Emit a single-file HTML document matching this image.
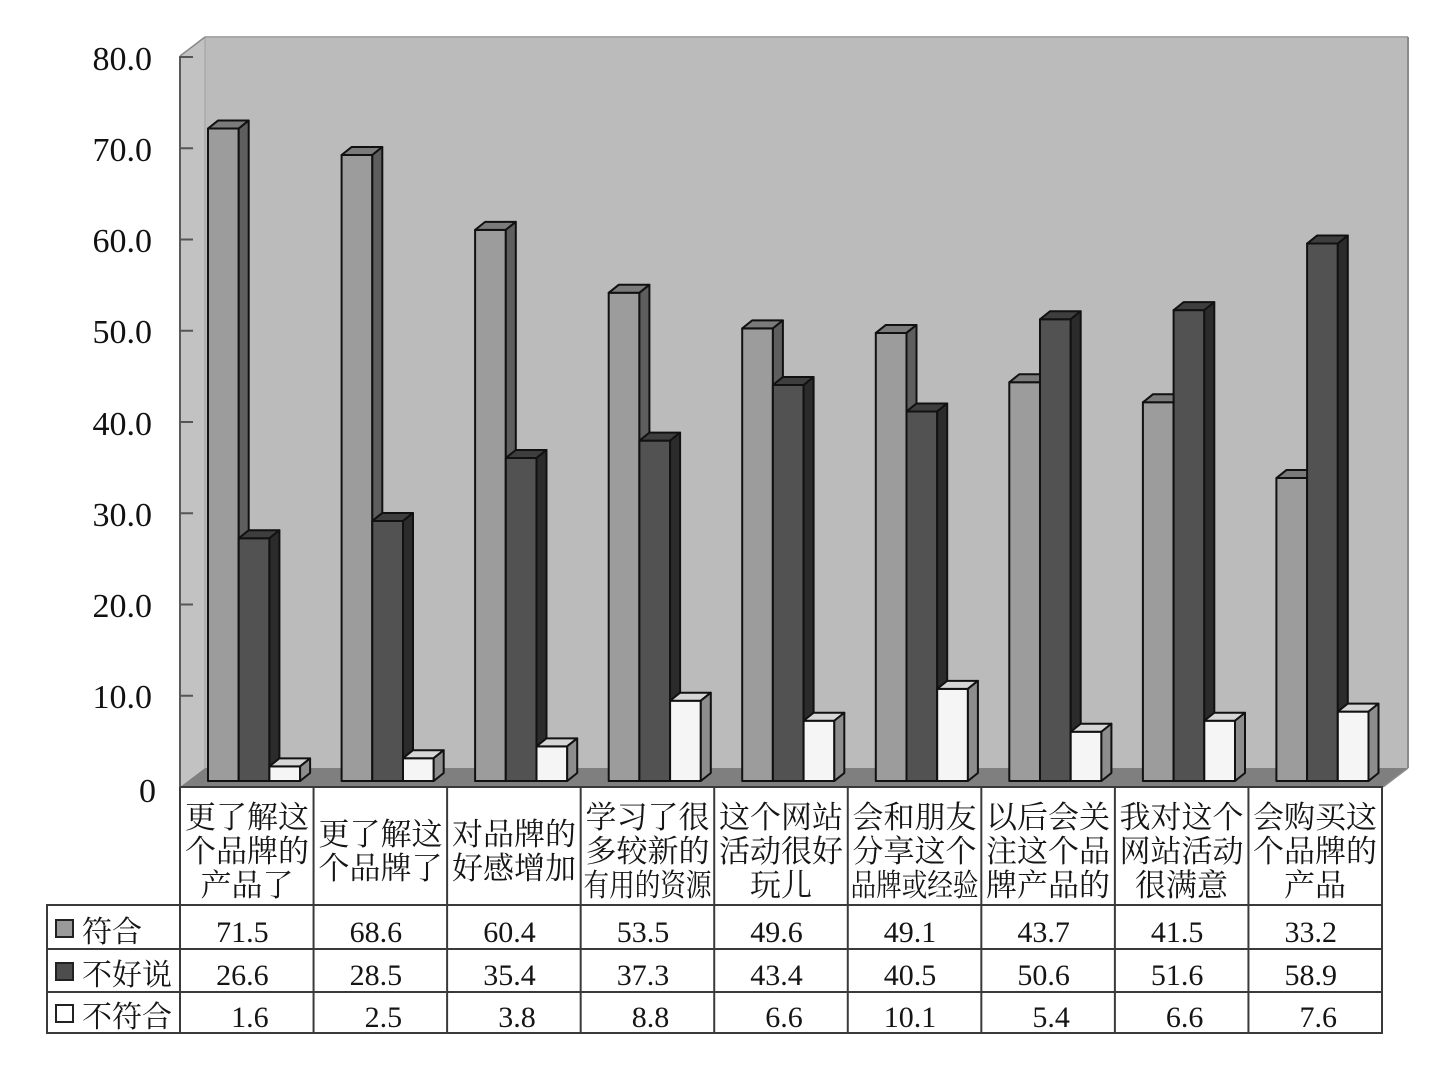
<!DOCTYPE html>
<html>
<head>
<meta charset="utf-8">
<style>
  html, body { margin:0; padding:0; background:#ffffff; }
  svg { display:block; }
  .ax { font-family:"Liberation Serif","Noto Serif CJK SC",serif; font-size:34px; fill:#111; }
  .cat { font-family:"Liberation Serif","Noto Serif CJK SC",serif; font-size:31px; fill:#151515; text-anchor:middle; }
  .num { font-family:"Liberation Serif","Noto Serif CJK SC",serif; font-size:30px; fill:#151515; text-anchor:end; }
  .lab { font-family:"Liberation Serif","Noto Serif CJK SC",serif; font-size:30px; fill:#151515; }
  .b rect, .b polygon { stroke:#111; stroke-width:2; stroke-linejoin:round; }
  .m .f { fill:#9c9c9c; } .m .t { fill:#7b7b7b; } .m .s { fill:#5e5e5e; }
  .d .f { fill:#525252; } .d .t { fill:#3e3e3e; } .d .s { fill:#2b2b2b; }
  .w .f { fill:#f5f5f5; } .w .t { fill:#d6d6d6; } .w .s { fill:#8d8d8d; }
  .grid line { stroke:#3a3a3a; stroke-width:2; }
</style>
</head>
<body>
<svg width="1454" height="1068" viewBox="0 0 1454 1068" xmlns="http://www.w3.org/2000/svg">
  <!-- back wall -->
  <rect x="205" y="37" width="1203" height="731" fill="#bbbbbb"/>
  <line x1="205" y1="37" x2="1408" y2="37" stroke="#a8a8a8" stroke-width="2"/>
  <line x1="1408" y1="37" x2="1408" y2="768" stroke="#8a8a8a" stroke-width="2"/>
  <!-- left wall -->
  <polygon points="180,56 205,37 205,768 180,787" fill="#c2c2c2"/>
  <line x1="205" y1="37" x2="205" y2="768" stroke="#a9a9a9" stroke-width="1.5"/>
  <line x1="180" y1="56" x2="205" y2="37" stroke="#8a8a8a" stroke-width="1.5"/>
  <!-- floor -->
  <polygon points="180,787 205,768 1408,768 1383,787" fill="#7f7f7f"/>
  <line x1="1383" y1="787" x2="1408" y2="768" stroke="#8a8a8a" stroke-width="1.5"/>

  <!-- axis line and ticks -->
  <line x1="180" y1="56" x2="180" y2="787" stroke="#5a5a5a" stroke-width="2"/>
  <g stroke="#555" stroke-width="2">
    <line x1="180" y1="57" x2="193" y2="57"/>
    <line x1="180" y1="148.25" x2="193" y2="148.25"/>
    <line x1="180" y1="239.5" x2="193" y2="239.5"/>
    <line x1="180" y1="330.75" x2="193" y2="330.75"/>
    <line x1="180" y1="422" x2="193" y2="422"/>
    <line x1="180" y1="513.25" x2="193" y2="513.25"/>
    <line x1="180" y1="604.5" x2="193" y2="604.5"/>
    <line x1="180" y1="695.75" x2="193" y2="695.75"/>
  </g>
  <g class="ax" text-anchor="end">
    <text x="152" y="70">80.0</text>
    <text x="152" y="161">70.0</text>
    <text x="152" y="252">60.0</text>
    <text x="152" y="343">50.0</text>
    <text x="152" y="435">40.0</text>
    <text x="152" y="526">30.0</text>
    <text x="152" y="617">20.0</text>
    <text x="152" y="708">10.0</text>
    <text x="156" y="802">0</text>
  </g>

  <!-- bars -->
  <!-- group 0 -->
  <g class="b m" transform="translate(208,128.56)"><rect class="f" x="0" y="0" width="30.7" height="652.44"/><polygon class="t" points="0,0 10,-8 40.7,-8 30.7,0"/><polygon class="s" points="30.7,0 40.7,-8 40.7,644.44 30.7,652.44"/></g>
  <g class="b d" transform="translate(238.7,538.27)"><rect class="f" x="0" y="0" width="30.7" height="242.73"/><polygon class="t" points="0,0 10,-8 40.7,-8 30.7,0"/><polygon class="s" points="30.7,0 40.7,-8 40.7,234.73 30.7,242.73"/></g>
  <g class="b w" transform="translate(269.4,766.4)"><rect class="f" x="0" y="0" width="30.7" height="14.6"/><polygon class="t" points="0,0 10,-8 40.7,-8 30.7,0"/><polygon class="s" points="30.7,0 40.7,-8 40.7,6.6 30.7,14.6"/></g>
  <!-- group 1 -->
  <g class="b m" transform="translate(341.6,155.02)"><rect class="f" x="0" y="0" width="30.7" height="625.98"/><polygon class="t" points="0,0 10,-8 40.7,-8 30.7,0"/><polygon class="s" points="30.7,0 40.7,-8 40.7,617.98 30.7,625.98"/></g>
  <g class="b d" transform="translate(372.3,520.94)"><rect class="f" x="0" y="0" width="30.7" height="260.06"/><polygon class="t" points="0,0 10,-8 40.7,-8 30.7,0"/><polygon class="s" points="30.7,0 40.7,-8 40.7,252.06 30.7,260.06"/></g>
  <g class="b w" transform="translate(403,758.19)"><rect class="f" x="0" y="0" width="30.7" height="22.81"/><polygon class="t" points="0,0 10,-8 40.7,-8 30.7,0"/><polygon class="s" points="30.7,0 40.7,-8 40.7,14.81 30.7,22.81"/></g>
  <!-- group 2 -->
  <g class="b m" transform="translate(475.1,229.85)"><rect class="f" x="0" y="0" width="30.7" height="551.15"/><polygon class="t" points="0,0 10,-8 40.7,-8 30.7,0"/><polygon class="s" points="30.7,0 40.7,-8 40.7,543.15 30.7,551.15"/></g>
  <g class="b d" transform="translate(505.8,457.97)"><rect class="f" x="0" y="0" width="30.7" height="323.03"/><polygon class="t" points="0,0 10,-8 40.7,-8 30.7,0"/><polygon class="s" points="30.7,0 40.7,-8 40.7,315.03 30.7,323.03"/></g>
  <g class="b w" transform="translate(536.5,746.32)"><rect class="f" x="0" y="0" width="30.7" height="34.68"/><polygon class="t" points="0,0 10,-8 40.7,-8 30.7,0"/><polygon class="s" points="30.7,0 40.7,-8 40.7,26.68 30.7,34.68"/></g>
  <!-- group 3 -->
  <g class="b m" transform="translate(608.7,292.81)"><rect class="f" x="0" y="0" width="30.7" height="488.19"/><polygon class="t" points="0,0 10,-8 40.7,-8 30.7,0"/><polygon class="s" points="30.7,0 40.7,-8 40.7,480.19 30.7,488.19"/></g>
  <g class="b d" transform="translate(639.4,440.64)"><rect class="f" x="0" y="0" width="30.7" height="340.36"/><polygon class="t" points="0,0 10,-8 40.7,-8 30.7,0"/><polygon class="s" points="30.7,0 40.7,-8 40.7,332.36 30.7,340.36"/></g>
  <g class="b w" transform="translate(670.1,700.7)"><rect class="f" x="0" y="0" width="30.7" height="80.3"/><polygon class="t" points="0,0 10,-8 40.7,-8 30.7,0"/><polygon class="s" points="30.7,0 40.7,-8 40.7,72.3 30.7,80.3"/></g>
  <!-- group 4 -->
  <g class="b m" transform="translate(742.2,328.4)"><rect class="f" x="0" y="0" width="30.7" height="452.6"/><polygon class="t" points="0,0 10,-8 40.7,-8 30.7,0"/><polygon class="s" points="30.7,0 40.7,-8 40.7,444.6 30.7,452.6"/></g>
  <g class="b d" transform="translate(772.9,384.97)"><rect class="f" x="0" y="0" width="30.7" height="396.03"/><polygon class="t" points="0,0 10,-8 40.7,-8 30.7,0"/><polygon class="s" points="30.7,0 40.7,-8 40.7,388.03 30.7,396.03"/></g>
  <g class="b w" transform="translate(803.6,720.77)"><rect class="f" x="0" y="0" width="30.7" height="60.23"/><polygon class="t" points="0,0 10,-8 40.7,-8 30.7,0"/><polygon class="s" points="30.7,0 40.7,-8 40.7,52.23 30.7,60.23"/></g>
  <!-- group 5 -->
  <g class="b m" transform="translate(875.8,332.96)"><rect class="f" x="0" y="0" width="30.7" height="448.04"/><polygon class="t" points="0,0 10,-8 40.7,-8 30.7,0"/><polygon class="s" points="30.7,0 40.7,-8 40.7,440.04 30.7,448.04"/></g>
  <g class="b d" transform="translate(906.5,411.44)"><rect class="f" x="0" y="0" width="30.7" height="369.56"/><polygon class="t" points="0,0 10,-8 40.7,-8 30.7,0"/><polygon class="s" points="30.7,0 40.7,-8 40.7,361.56 30.7,369.56"/></g>
  <g class="b w" transform="translate(937.2,688.84)"><rect class="f" x="0" y="0" width="30.7" height="92.16"/><polygon class="t" points="0,0 10,-8 40.7,-8 30.7,0"/><polygon class="s" points="30.7,0 40.7,-8 40.7,84.16 30.7,92.16"/></g>
  <!-- group 6 -->
  <g class="b m" transform="translate(1009.3,382.24)"><rect class="f" x="0" y="0" width="30.7" height="398.76"/><polygon class="t" points="0,0 10,-8 40.7,-8 30.7,0"/><polygon class="s" points="30.7,0 40.7,-8 40.7,390.76 30.7,398.76"/></g>
  <g class="b d" transform="translate(1040,319.27)"><rect class="f" x="0" y="0" width="30.7" height="461.73"/><polygon class="t" points="0,0 10,-8 40.7,-8 30.7,0"/><polygon class="s" points="30.7,0 40.7,-8 40.7,453.73 30.7,461.73"/></g>
  <g class="b w" transform="translate(1070.7,731.72)"><rect class="f" x="0" y="0" width="30.7" height="49.28"/><polygon class="t" points="0,0 10,-8 40.7,-8 30.7,0"/><polygon class="s" points="30.7,0 40.7,-8 40.7,41.28 30.7,49.28"/></g>
  <!-- group 7 -->
  <g class="b m" transform="translate(1142.9,402.31)"><rect class="f" x="0" y="0" width="30.7" height="378.69"/><polygon class="t" points="0,0 10,-8 40.7,-8 30.7,0"/><polygon class="s" points="30.7,0 40.7,-8 40.7,370.69 30.7,378.69"/></g>
  <g class="b d" transform="translate(1173.6,310.15)"><rect class="f" x="0" y="0" width="30.7" height="470.85"/><polygon class="t" points="0,0 10,-8 40.7,-8 30.7,0"/><polygon class="s" points="30.7,0 40.7,-8 40.7,462.85 30.7,470.85"/></g>
  <g class="b w" transform="translate(1204.3,720.77)"><rect class="f" x="0" y="0" width="30.7" height="60.23"/><polygon class="t" points="0,0 10,-8 40.7,-8 30.7,0"/><polygon class="s" points="30.7,0 40.7,-8 40.7,52.23 30.7,60.23"/></g>
  <!-- group 8 -->
  <g class="b m" transform="translate(1276.4,478.05)"><rect class="f" x="0" y="0" width="30.7" height="302.95"/><polygon class="t" points="0,0 10,-8 40.7,-8 30.7,0"/><polygon class="s" points="30.7,0 40.7,-8 40.7,294.95 30.7,302.95"/></g>
  <g class="b d" transform="translate(1307.1,243.54)"><rect class="f" x="0" y="0" width="30.7" height="537.46"/><polygon class="t" points="0,0 10,-8 40.7,-8 30.7,0"/><polygon class="s" points="30.7,0 40.7,-8 40.7,529.46 30.7,537.46"/></g>
  <g class="b w" transform="translate(1337.8,711.65)"><rect class="f" x="0" y="0" width="30.7" height="69.35"/><polygon class="t" points="0,0 10,-8 40.7,-8 30.7,0"/><polygon class="s" points="30.7,0 40.7,-8 40.7,61.35 30.7,69.35"/></g>

  <!-- data table grid -->
  <g class="grid">
    <line x1="180" y1="787" x2="1383" y2="787"/>
    <line x1="47" y1="905" x2="1383" y2="905"/>
    <line x1="47" y1="949" x2="1383" y2="949"/>
    <line x1="47" y1="992" x2="1383" y2="992"/>
    <line x1="47" y1="1033" x2="1383" y2="1033"/>
    <line x1="47" y1="904" x2="47" y2="1034"/>
    <line x1="180" y1="787" x2="180" y2="1034"/>
    <line x1="313.56" y1="787" x2="313.56" y2="1034"/>
    <line x1="447.11" y1="787" x2="447.11" y2="1034"/>
    <line x1="580.67" y1="787" x2="580.67" y2="1034"/>
    <line x1="714.22" y1="787" x2="714.22" y2="1034"/>
    <line x1="847.78" y1="787" x2="847.78" y2="1034"/>
    <line x1="981.33" y1="787" x2="981.33" y2="1034"/>
    <line x1="1114.89" y1="787" x2="1114.89" y2="1034"/>
    <line x1="1248.44" y1="787" x2="1248.44" y2="1034"/>
    <line x1="1382" y1="787" x2="1382" y2="1034"/>
  </g>

  <!-- category labels -->
  <g class="cat">
    <text x="247" y="828">更了解这</text>
    <text x="247" y="862">个品牌的</text>
    <text x="247" y="896">产品了</text>

    <text x="380.5" y="845">更了解这</text>
    <text x="380.5" y="879">个品牌了</text>

    <text x="514" y="845">对品牌的</text>
    <text x="514" y="879">好感增加</text>

    <text x="647.5" y="828">学习了很</text>
    <text x="647.5" y="862">多较新的</text>
    <text x="647.5" y="896" textLength="128" lengthAdjust="spacingAndGlyphs">有用的资源</text>

    <text x="781" y="828">这个网站</text>
    <text x="781" y="862">活动很好</text>
    <text x="781" y="896">玩儿</text>

    <text x="914.5" y="828">会和朋友</text>
    <text x="914.5" y="862">分享这个</text>
    <text x="914.5" y="896" textLength="128" lengthAdjust="spacingAndGlyphs">品牌或经验</text>

    <text x="1048" y="828">以后会关</text>
    <text x="1048" y="862">注这个品</text>
    <text x="1048" y="896">牌产品的</text>

    <text x="1181.5" y="828">我对这个</text>
    <text x="1181.5" y="862">网站活动</text>
    <text x="1181.5" y="896">很满意</text>

    <text x="1315" y="828">会购买这</text>
    <text x="1315" y="862">个品牌的</text>
    <text x="1315" y="896">产品</text>
  </g>

  <!-- legend keys -->
  <rect x="56" y="920" width="17" height="17" fill="#9a9a9a" stroke="#222" stroke-width="2"/>
  <rect x="56" y="963" width="17" height="17" fill="#4d4d4d" stroke="#222" stroke-width="2"/>
  <rect x="56" y="1005" width="17" height="17" fill="#ffffff" stroke="#222" stroke-width="2"/>
  <g class="lab">
    <text x="82" y="942">符合</text>
    <text x="82" y="985">不好说</text>
    <text x="82" y="1027">不符合</text>
  </g>

  <!-- numbers -->
  <g class="num">
    <text x="268.6" y="942">71.5</text>
    <text x="402.1" y="942">68.6</text>
    <text x="535.7" y="942">60.4</text>
    <text x="669.2" y="942">53.5</text>
    <text x="802.8" y="942">49.6</text>
    <text x="936.3" y="942">49.1</text>
    <text x="1069.9" y="942">43.7</text>
    <text x="1203.4" y="942">41.5</text>
    <text x="1337" y="942">33.2</text>

    <text x="268.6" y="985">26.6</text>
    <text x="402.1" y="985">28.5</text>
    <text x="535.7" y="985">35.4</text>
    <text x="669.2" y="985">37.3</text>
    <text x="802.8" y="985">43.4</text>
    <text x="936.3" y="985">40.5</text>
    <text x="1069.9" y="985">50.6</text>
    <text x="1203.4" y="985">51.6</text>
    <text x="1337" y="985">58.9</text>

    <text x="268.6" y="1027">1.6</text>
    <text x="402.1" y="1027">2.5</text>
    <text x="535.7" y="1027">3.8</text>
    <text x="669.2" y="1027">8.8</text>
    <text x="802.8" y="1027">6.6</text>
    <text x="936.3" y="1027">10.1</text>
    <text x="1069.9" y="1027">5.4</text>
    <text x="1203.4" y="1027">6.6</text>
    <text x="1337" y="1027">7.6</text>
  </g>
</svg>
</body>
</html>
